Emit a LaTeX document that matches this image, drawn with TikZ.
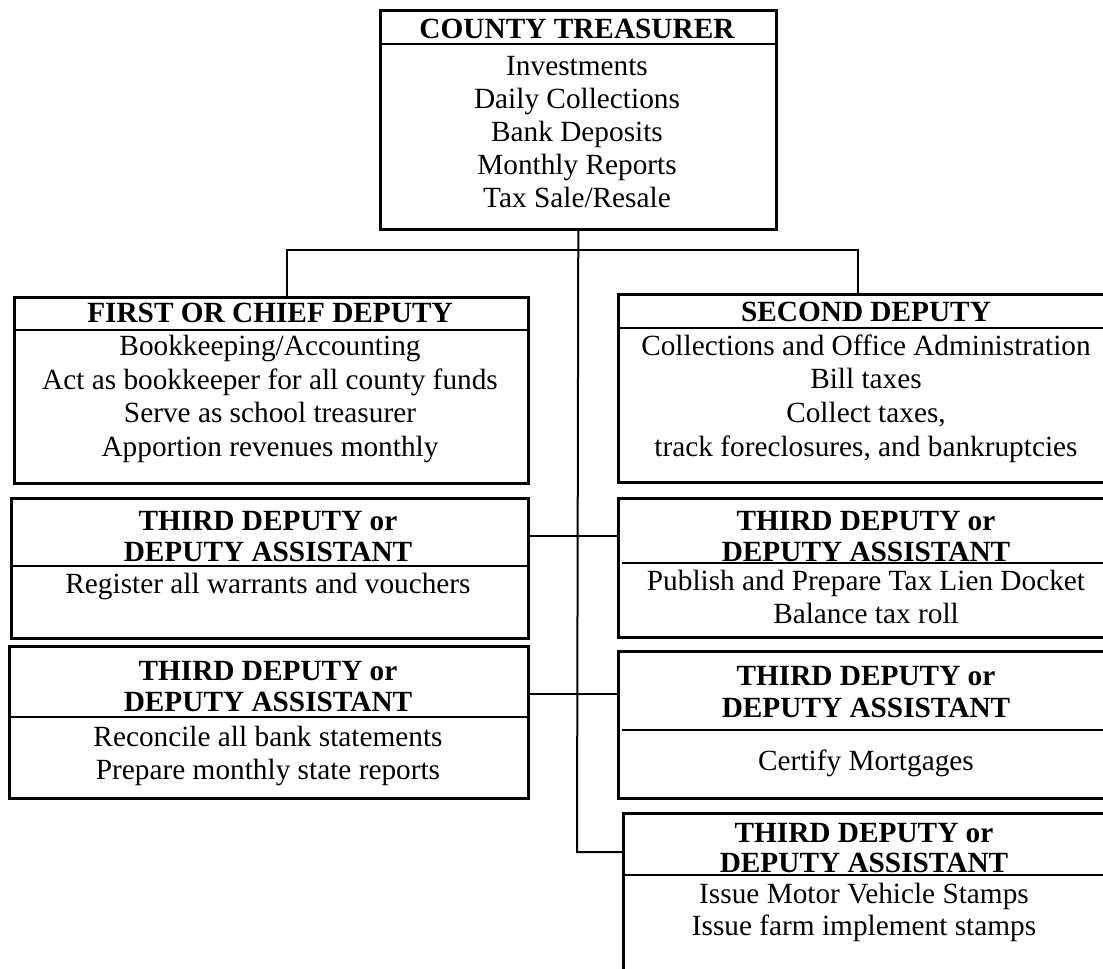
\documentclass[tikz,border=0pt]{standalone}
\usepackage{fontspec}
\setmainfont{Liberation Serif}
\begin{document}
\begin{tikzpicture}[x=1pt,y=-1pt,
  box/.style={draw, line width=2.6pt, inner sep=0pt, anchor=north west},
  sepline/.style={line width=2pt},
  conn/.style={line width=2pt},
  ttl/.style={font=\bfseries\fontsize{29.3}{31}\selectfont, anchor=base, inner sep=0pt},
  bdy/.style={font=\fontsize{29.3}{33}\selectfont, anchor=base, inner sep=0pt}]
\useasboundingbox (0,0) rectangle (1103,969);
\clip (0,0) rectangle (1103,969);

% boxes
\node[box, minimum width=396pt, minimum height=219pt] (top) at (379,9) {};
\node[box, minimum width=514pt, minimum height=186pt] (first) at (13,296) {};
\node[box, minimum width=500pt, minimum height=188pt] (second) at (617,293) {};
\node[box, minimum width=517pt, minimum height=140pt] (l1) at (10,497) {};
\node[box, minimum width=500pt, minimum height=139pt] (r1) at (617,497) {};
\node[box, minimum width=519pt, minimum height=152pt] (l2) at (8,645) {};
\node[box, minimum width=500pt, minimum height=147pt] (r2) at (617,650) {};
\node[box, minimum width=500pt, minimum height=200pt] (r3) at (622,812) {};

% header separators
\draw[sepline] (379,44) -- (775,44);
\draw[sepline] (13,330) -- (527,330);
\draw[sepline] (617,328) -- (1110,328);
\draw[sepline] (10,566) -- (527,566);
\draw[sepline] (622,563) -- (1110,563);
\draw[sepline] (8,717) -- (527,717);
\draw[sepline] (622,730) -- (1110,730);
\draw[sepline] (622,875) -- (1110,875);

% connectors
\coordinate (bend) at (577,852);
\coordinate (hl) at (287,250);
\coordinate (hr) at (858,250);
\draw[conn] (top.south) -- (bend) -- (bend -| r3.west);
\draw[conn] (first.north -| hl) -- (hl) -- (hr) -- (second.north -| hr);
\draw[conn] (l1.east |- 0,536) -- (r1.west |- 0,536);
\draw[conn] (l2.east |- 0,694) -- (r2.west |- 0,694);

% texts
\node[ttl] (tTop) at (577,38) {COUNTY TREASURER};
\foreach \t [count=\i] in {Investments, Daily Collections, Bank Deposits, Monthly Reports, Tax Sale/Resale}
  \node[bdy] at (577,{75+33*(\i-1)}) {\t};

\node[ttl] (tFirst) at (270,322) {FIRST OR CHIEF DEPUTY};
\node[bdy] at (270,355) {Bookkeeping/Accounting};
\node[bdy] at (270,389) {Act as bookkeeper for all county funds};
\node[bdy] at (270,422) {Serve as school treasurer};
\node[bdy] at (270,456) {Apportion revenues monthly};

\node[ttl] (tSecond) at (866,321) {SECOND DEPUTY};
\node[bdy] at (866,355) {Collections and Office Administration};
\node[bdy] at (866,388) {Bill taxes};
\node[bdy] at (866,422) {Collect taxes,};
\node[bdy] at (866,456) {track foreclosures, and bankruptcies};

\node[ttl] (tL1) at (268,530) {THIRD DEPUTY or};
\node[ttl] at (268,561) {DEPUTY ASSISTANT};
\node[bdy] at (268,593) {Register all warrants and vouchers};

\node[ttl] (tR1) at (866,530) {THIRD DEPUTY or};
\node[ttl] at (866,561) {DEPUTY ASSISTANT};
\node[bdy] at (866,590) {Publish and Prepare Tax Lien Docket};
\node[bdy] at (866,623) {Balance tax roll};

\node[ttl] (tL2) at (268,680) {THIRD DEPUTY or};
\node[ttl] at (268,711) {DEPUTY ASSISTANT};
\node[bdy] at (268,746) {Reconcile all bank statements};
\node[bdy] at (268,779) {Prepare monthly state reports};

\node[ttl] (tR2) at (866,685) {THIRD DEPUTY or};
\node[ttl] at (866,717) {DEPUTY ASSISTANT};
\node[bdy] at (866,770) {Certify Mortgages};

\node[ttl] (tR3) at (864,842) {THIRD DEPUTY or};
\node[ttl] at (864,872) {DEPUTY ASSISTANT};
\node[bdy] at (864,903) {Issue Motor Vehicle Stamps};
\node[bdy] at (864,935) {Issue farm implement stamps};
\end{tikzpicture}
\end{document}
